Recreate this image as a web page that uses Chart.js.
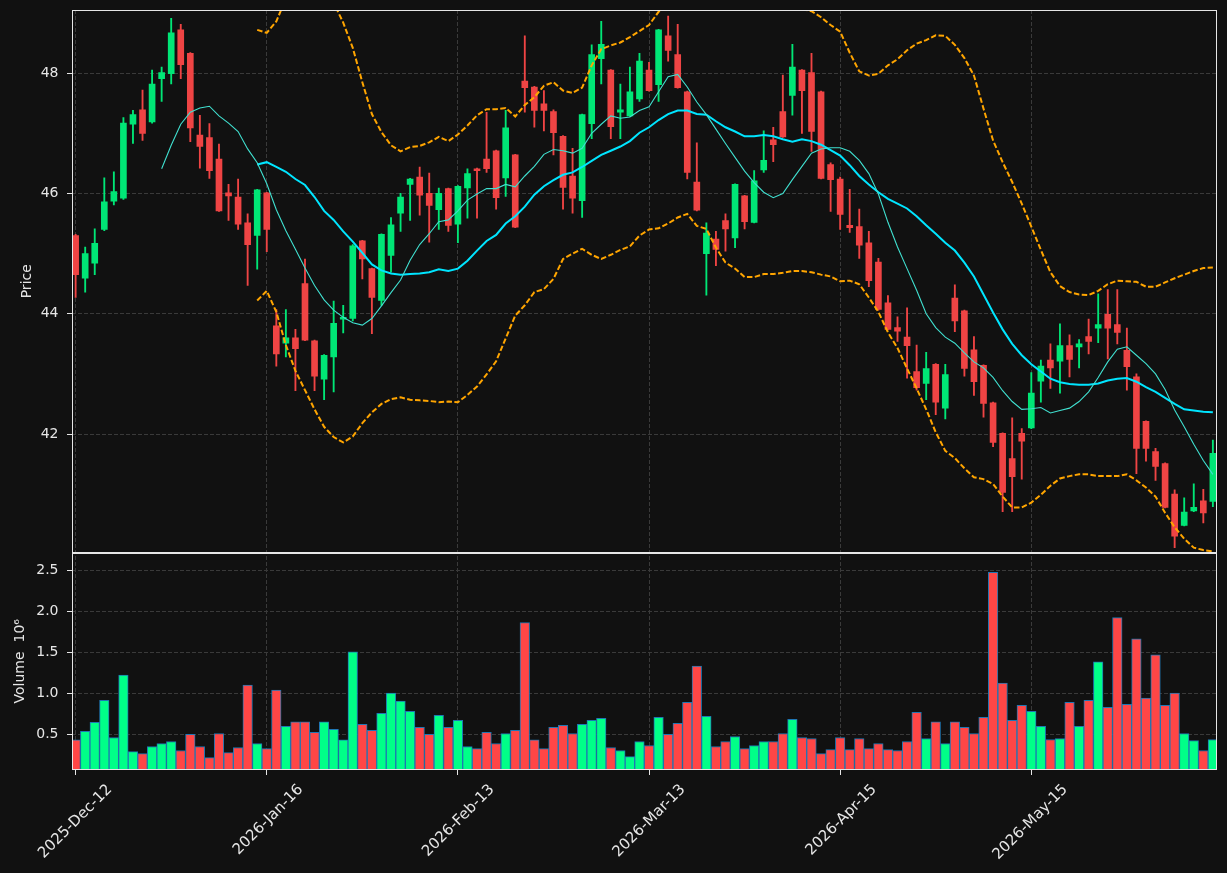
<!DOCTYPE html>
<html lang="en">
<head>
<meta charset="UTF-8">
<title>Price and volume</title>
<script src="https://cdn.jsdelivr.net/npm/chart.js"></script>
<style>
  html, body { margin: 0; padding: 0; background: #111111; }
  canvas { display: block; }
</style>
</head>
<body>
<canvas id="chart" width="1227" height="873"></canvas>
<script>
// daily candles, index 0 = 2025-Dec-12
const opens = [45.30,44.59,44.84,45.40,45.87,45.92,47.15,47.39,47.19,47.91,
  47.99,48.72,48.33,46.97,46.93,46.57,46.01,45.94,45.51,45.30,
  46.01,43.80,43.51,43.60,44.50,43.55,42.91,43.28,43.91,43.92,
  45.21,44.75,44.22,44.97,45.67,46.15,46.27,46.00,45.73,46.08,
  45.49,46.09,46.41,46.57,46.71,46.26,46.64,47.87,47.77,47.49,
  47.36,46.95,46.29,45.88,47.16,48.24,48.05,47.35,47.29,47.57,
  48.05,47.81,48.62,48.31,47.69,46.19,45.00,45.24,45.55,45.26,
  45.96,45.52,46.39,46.89,47.36,47.63,48.05,48.01,47.69,46.48,
  46.24,45.47,45.45,45.18,44.86,44.18,43.77,43.61,43.04,42.84,
  43.16,42.43,44.26,44.05,43.40,43.14,42.52,42.01,41.59,42.01,
  42.10,42.88,43.23,43.21,43.47,43.45,43.62,43.76,43.99,43.82,
  43.39,42.95,42.21,41.71,41.51,41.00,40.48,40.72,40.89,40.88];
const highs = [45.32,45.11,45.41,46.26,46.36,47.26,47.38,47.72,48.05,48.10,
  48.91,48.81,48.34,47.30,47.16,46.82,46.15,46.24,45.66,46.07,
  46.02,44.07,44.07,43.74,44.91,43.56,43.32,44.21,44.14,45.15,
  45.22,44.76,45.33,45.60,46.00,46.25,46.44,46.34,46.09,46.09,
  46.13,46.41,46.42,47.35,46.72,47.38,46.65,48.62,47.78,47.71,
  47.39,46.96,46.75,47.32,48.47,48.86,48.06,47.82,48.10,48.33,
  48.18,48.73,48.95,48.81,47.70,46.84,45.51,45.37,45.66,46.16,
  45.97,46.38,47.04,47.10,47.97,48.48,48.06,48.33,47.70,46.51,
  46.27,46.07,45.74,45.37,44.92,44.30,43.95,44.10,43.48,43.36,
  43.17,43.16,44.48,44.06,43.62,43.15,42.53,42.02,42.27,42.09,
  43.02,43.23,43.50,43.83,43.65,43.57,43.91,44.33,44.40,44.40,
  43.76,43.00,42.22,41.76,41.52,41.07,40.94,41.17,41.08,41.90];
const lows = [44.27,44.36,44.65,45.38,45.81,45.90,46.83,46.88,47.17,47.53,
  47.82,47.91,46.86,46.42,46.25,45.70,45.55,45.40,44.47,44.74,
  45.03,43.13,43.28,42.72,43.55,42.72,42.57,42.70,43.68,43.88,
  44.58,43.67,44.14,44.69,45.37,45.55,45.64,45.19,45.40,45.37,
  45.18,45.59,45.59,46.35,45.74,45.95,45.43,47.35,47.10,47.04,
  46.64,45.74,45.67,45.60,46.91,47.82,46.91,46.91,47.28,47.53,
  47.70,47.53,48.20,47.75,46.24,45.71,44.31,44.80,45.04,45.10,
  45.41,45.51,46.35,46.53,46.93,47.30,47.00,46.70,46.24,45.70,
  45.40,45.35,44.92,44.45,44.06,43.73,43.54,42.93,42.73,42.57,
  42.32,42.25,43.70,42.96,42.64,42.28,41.79,40.71,40.71,41.25,
  42.09,42.53,42.76,42.68,42.95,43.10,43.33,43.52,43.25,43.50,
  42.73,41.34,41.55,41.23,40.77,40.11,40.47,40.71,40.52,40.79];
const closes = [44.65,45.00,45.17,45.86,46.03,47.17,47.31,47.00,47.82,48.01,
  48.67,48.14,47.09,46.78,46.38,45.71,45.96,45.49,45.15,46.06,
  45.40,43.33,43.60,43.42,43.56,42.96,43.31,43.84,43.94,45.13,
  44.91,44.27,45.32,45.48,45.94,46.24,45.97,45.80,46.00,45.47,
  46.12,46.33,46.38,46.41,45.93,47.09,45.44,47.76,47.38,47.38,
  47.01,46.10,45.92,47.31,48.31,48.48,47.11,47.39,47.69,48.20,
  47.71,48.72,48.38,47.76,46.35,45.72,45.34,45.07,45.41,46.15,
  45.53,46.21,46.55,46.81,46.94,48.10,47.71,47.03,46.25,46.23,
  45.65,45.43,45.14,44.55,44.07,43.74,43.71,43.47,42.77,43.09,
  42.53,42.99,43.88,43.09,42.87,42.51,41.86,41.03,41.29,41.88,
  42.68,43.13,43.10,43.47,43.24,43.50,43.54,43.82,43.76,43.69,
  43.12,41.76,41.76,41.46,40.78,40.30,40.70,40.78,40.69,41.68];
// volume in millions
const volumes = [0.435,0.537,0.647,0.917,0.463,1.224,0.291,0.267,0.353,0.390,
  0.414,0.304,0.500,0.353,0.218,0.512,0.279,0.341,1.101,0.390,
  0.328,1.040,0.598,0.655,0.655,0.525,0.655,0.561,0.435,1.506,
  0.623,0.549,0.758,1.003,0.905,0.782,0.586,0.500,0.733,0.586,
  0.672,0.353,0.328,0.525,0.390,0.512,0.549,1.861,0.435,0.328,
  0.586,0.610,0.512,0.623,0.672,0.696,0.341,0.304,0.230,0.414,
  0.365,0.709,0.500,0.635,0.892,1.334,0.721,0.353,0.414,0.475,
  0.328,0.365,0.414,0.414,0.512,0.684,0.463,0.451,0.267,0.316,
  0.463,0.316,0.451,0.328,0.390,0.316,0.304,0.414,0.770,0.451,
  0.655,0.390,0.655,0.586,0.512,0.709,2.475,1.126,0.672,0.856,
  0.782,0.598,0.439,0.451,0.892,0.598,0.917,1.383,0.831,1.923,
  0.868,1.665,0.942,1.469,0.856,1.003,0.512,0.426,0.304,0.439];

// overlays (short average starts at candle 9, the rest at 19)
const shortMaStart = 9;
const shortMa = [46.41,46.80,47.15,47.35,47.42,47.45,47.29,47.17,47.03,46.74,46.51,
  46.16,45.73,45.38,45.07,44.76,44.47,44.23,44.06,43.94,43.85,
  43.81,43.92,44.13,44.35,44.56,44.89,45.15,45.33,45.53,45.56,
  45.71,45.89,45.99,46.08,46.08,46.15,46.11,46.29,46.45,46.65,
  46.73,46.71,46.67,46.75,47.00,47.15,47.29,47.25,47.27,47.38,
  47.44,47.69,47.94,47.98,47.77,47.52,47.31,47.07,46.83,46.60,
  46.37,46.18,46.02,45.93,46.00,46.23,46.45,46.67,46.74,46.76,
  46.76,46.70,46.55,46.33,45.99,45.52,45.11,44.75,44.39,44.00,
  43.77,43.61,43.51,43.35,43.20,43.10,42.94,42.72,42.54,42.41,
  42.42,42.44,42.35,42.39,42.43,42.54,42.70,42.94,43.20,43.41,
  43.45,43.31,43.17,43.00,42.74,42.40,42.12,41.83,41.56,41.33];
const bandStart = 19;
const longMa = [46.48,
  46.52,46.44,46.36,46.24,46.14,45.94,45.71,45.56,45.37,45.20,
  45.01,44.82,44.72,44.67,44.65,44.66,44.67,44.69,44.74,44.71,
  44.75,44.88,45.05,45.21,45.31,45.50,45.62,45.78,45.98,46.12,
  46.22,46.31,46.35,46.44,46.54,46.64,46.71,46.78,46.87,47.01,
  47.10,47.22,47.32,47.38,47.38,47.32,47.31,47.20,47.10,47.03,
  46.95,46.95,46.97,46.95,46.90,46.86,46.90,46.87,46.81,46.72,
  46.63,46.47,46.29,46.15,46.02,45.91,45.83,45.75,45.62,45.47,
  45.33,45.18,45.05,44.85,44.62,44.32,44.02,43.74,43.50,43.31,
  43.16,43.04,42.92,42.86,42.83,42.82,42.82,42.84,42.89,42.92,
  42.93,42.87,42.78,42.70,42.60,42.50,42.41,42.39,42.37,42.36];
const bandUpper = [48.72,
  48.67,48.86,49.24,49.43,49.55,49.47,49.30,49.17,48.84,48.42,
  47.85,47.32,47.02,46.80,46.70,46.77,46.79,46.85,46.94,46.87,
  46.98,47.13,47.30,47.40,47.40,47.42,47.28,47.47,47.60,47.79,
  47.85,47.71,47.67,47.76,48.13,48.40,48.46,48.51,48.60,48.70,
  48.80,49.02,49.14,49.16,49.10,49.18,49.21,49.30,49.35,49.31,
  49.29,49.29,49.28,49.24,49.12,49.05,49.07,49.03,48.93,48.80,
  48.69,48.34,48.03,47.96,47.99,48.13,48.23,48.38,48.49,48.55,
  48.63,48.62,48.47,48.25,47.96,47.41,46.88,46.52,46.19,45.83,
  45.45,45.06,44.69,44.46,44.36,44.32,44.31,44.38,44.49,44.55,
  44.54,44.53,44.45,44.45,44.52,44.59,44.65,44.71,44.76,44.77];
const bandLower = [44.22,
  44.38,44.03,43.48,43.05,42.73,42.41,42.12,41.95,41.86,41.96,
  42.18,42.36,42.50,42.58,42.61,42.57,42.56,42.55,42.53,42.54,
  42.53,42.65,42.79,42.99,43.21,43.59,43.97,44.14,44.36,44.41,
  44.58,44.91,45.00,45.08,44.98,44.91,44.98,45.06,45.12,45.30,
  45.40,45.42,45.50,45.60,45.66,45.46,45.41,45.10,44.85,44.75,
  44.61,44.61,44.66,44.66,44.68,44.71,44.71,44.69,44.65,44.62,
  44.54,44.55,44.49,44.27,44.03,43.69,43.43,43.09,42.76,42.41,
  42.03,41.72,41.60,41.43,41.28,41.25,41.17,40.96,40.78,40.78,
  40.86,40.99,41.14,41.26,41.30,41.33,41.33,41.30,41.30,41.30,
  41.33,41.23,41.11,40.96,40.69,40.45,40.26,40.11,40.07,40.05];

const dateTickIdx = [0, 20, 40, 60, 80, 100];
const dateTickLabels = ['2025-Dec-12', '2026-Jan-16', '2026-Feb-13', '2026-Mar-13', '2026-Apr-15', '2026-May-15'];
const priceTicks = [42, 44, 46, 48];
const volumeTicks = [0.5, 1.0, 1.5, 2.0, 2.5];

const upColor = '#00e676', downColor = '#ef4444';
const volUp = '#00ff88', volDown = '#ff4646';
const textColor = '#e6e6e6';
const gridColor = '#3a3a3a';
const font = { family: 'DejaVu Sans', size: 14 };

const up = opens.map((o, i) => closes[i] >= o);
const line = (vals, start) => vals.map((v, k) => ({ x: start + k, y: v }));

// white box around each panel
const frame = {
  id: 'frame',
  afterDraw(chart) {
    const { ctx, chartArea } = chart;
    ctx.save();
    ctx.strokeStyle = textColor;
    ctx.lineWidth = 1;
    ['y', 'vol'].forEach(id => {
      const s = chart.scales[id];
      const l = Math.round(chartArea.left) + 0.5, r = Math.round(chartArea.right) - 0.5;
      const t = Math.round(s.top) + 0.5, b = Math.round(s.bottom) - 0.5;
      ctx.strokeRect(l, t, r - l, b - t);
    });
    ctx.restore();
  }
};

const grid = { offset: false, color: gridColor, lineWidth: 1, tickLength: 5, tickColor: textColor, tickWidth: 1, tickBorderDash: [] };
const border = { display: false, dash: [4, 2] };
const fixY = s => { s.width = 72; s.paddingTop = 0; s.paddingBottom = 0; };

new Chart(document.getElementById('chart'), {
  type: 'bar',
  data: {
    datasets: [
      { type: 'line', data: line(shortMa, shortMaStart), borderColor: '#40e0d0', borderWidth: 1.1, pointRadius: 0, yAxisID: 'y', order: 0 },
      { type: 'line', data: line(longMa, bandStart), borderColor: '#00e5ff', borderWidth: 2, pointRadius: 0, yAxisID: 'y', order: 0 },
      { type: 'line', data: line(bandUpper, bandStart), borderColor: '#ffa500', borderWidth: 2, borderDash: [5.5, 2.4], pointRadius: 0, yAxisID: 'y', order: 0 },
      { type: 'line', data: line(bandLower, bandStart), borderColor: '#ffa500', borderWidth: 2, borderDash: [5.5, 2.4], pointRadius: 0, yAxisID: 'y', order: 0 },
      { data: opens.map((o, i) => ({ x: i, y: [o, closes[i]] })), backgroundColor: up.map(u => u ? upColor : downColor),
        barThickness: 6, minBarLength: 1, grouped: false, yAxisID: 'y', order: 1 },
      { data: lows.map((l, i) => ({ x: i, y: [l, highs[i]] })), backgroundColor: up.map(u => u ? upColor : downColor),
        barThickness: 1.2, grouped: false, yAxisID: 'y', order: 2 },
      { data: volumes.map((v, i) => ({ x: i, y: v })), backgroundColor: up.map(u => u ? volUp : volDown),
        borderColor: '#1f77b4', borderWidth: 1, barPercentage: 1, categoryPercentage: 1, grouped: false, yAxisID: 'vol', order: 3 }
    ]
  },
  options: {
    responsive: false,
    animation: false,
    layout: { padding: { top: 10, right: 10.3, left: 0, bottom: 0 } },
    plugins: { legend: { display: false }, tooltip: { enabled: false } },
    scales: {
      x: {
        type: 'linear', offset: false, min: -0.38, max: 119.4,
        afterBuildTicks: s => { s.ticks = dateTickIdx.map(v => ({ value: v })); },
        afterFit: s => { s.height = 103; s.paddingLeft = 0; s.paddingRight = 0; },
        ticks: { autoSkip: false, minRotation: 45, maxRotation: 45, color: textColor, font: { family: 'DejaVu Sans', size: 15 },
          padding: 6, labelOffset: 34, callback: v => dateTickLabels[dateTickIdx.indexOf(v)] },
        grid, border
      },
      vol: {
        type: 'linear', position: 'left', stack: 'panels', stackWeight: 217.5, min: 0.067, max: 2.716,
        afterBuildTicks: s => { s.ticks = volumeTicks.map(v => ({ value: v })); },
        afterFit: fixY,
        ticks: { color: textColor, font, padding: 8.5, callback: v => v.toFixed(1) },
        title: { display: true, text: 'Volume  10\u2076', color: textColor, font, padding: { top: 12, bottom: 0 } },
        grid, border
      },
      y: {
        type: 'linear', position: 'left', stack: 'panels', stackWeight: 542.5, min: 40.03, max: 49.05,
        afterBuildTicks: s => { s.ticks = priceTicks.map(v => ({ value: v })); },
        afterFit: fixY,
        ticks: { color: textColor, font, padding: 8.5, callback: v => String(v) },
        title: { display: true, text: 'Price', color: textColor, font, padding: { top: 19, bottom: 0 } },
        grid, border
      }
    }
  },
  plugins: [frame]
});
</script>
</body>
</html>
